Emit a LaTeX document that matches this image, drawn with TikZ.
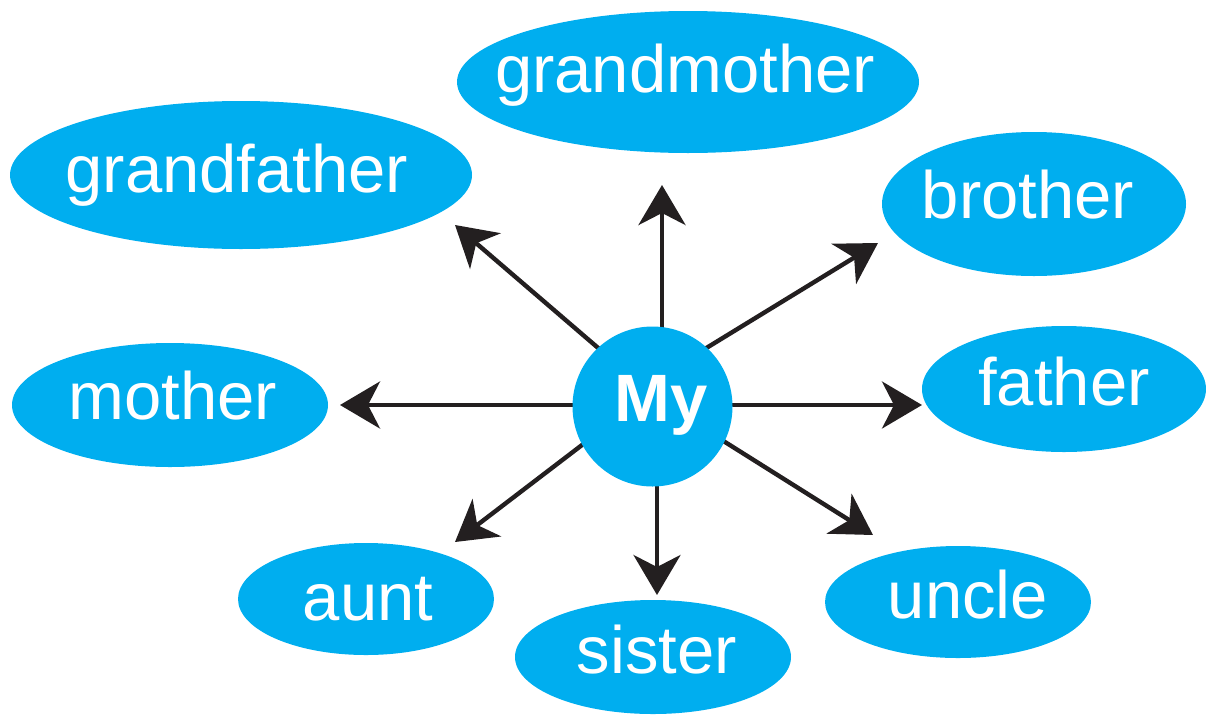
\documentclass[tikz,border=0pt]{standalone}
\usepackage{fontspec}
\setmainfont{Liberation Sans}
\usetikzlibrary{shapes.geometric,arrows.meta,calc}
\definecolor{myblue}{HTML}{00AEEF}
\definecolor{arrowdark}{HTML}{231F20}
\tikzset{
  bubble/.style={ellipse, fill=myblue, draw=none, inner sep=0pt},
  lbl/.style={anchor=base, text=white, inner sep=0pt, font=\fontsize{67}{70}\selectfont},
  arr/.style={draw=arrowdark, line width=4.4pt, -{Stealth[length=40pt,width=47pt,inset=12pt]}},
}
\begin{document}
\begin{tikzpicture}[x=1pt,y=-1pt]
\useasboundingbox (0,0) rectangle (1206,718);
% bubbles
\node[bubble, minimum width=462pt, minimum height=142pt] (gm) at (688,82) {};
\node[bubble, minimum width=462pt, minimum height=148pt] (gf) at (241,175) {};
\node[bubble, minimum width=304pt, minimum height=144pt] (br) at (1034,204) {};
\node[bubble, minimum width=316pt, minimum height=124pt] (mo) at (170,405) {};
\node[bubble, minimum width=284pt, minimum height=126pt] (fa) at (1064,389) {};
\node[bubble, minimum width=256pt, minimum height=112pt] (au) at (366,599) {};
\node[bubble, minimum width=276pt, minimum height=114pt] (si) at (653,657) {};
\node[bubble, minimum width=266pt, minimum height=112pt] (un) at (958,602) {};
% labels
\node[lbl] (tgm) at (685,92) {grandmother};
\node[lbl] (tgf) at (237,192) {grandfather};
\node[lbl] (tbr) at (1028,218) {brother};
\node[lbl] (tmo) at (173,419) {mother};
\node[lbl] (tfa) at (1064,405) {father};
\node[lbl] (tau) at (368,620) {aunt};
\node[lbl] (tsi) at (657,673) {sister};
\node[lbl] (tun) at (968,618) {uncle};
% arrow start/end coordinates
\coordinate (sU) at (662,380);   \coordinate (tU) at (662,185);
\coordinate (sD) at (657,440);   \coordinate (tD) at (657,595);
\coordinate (sL) at (620,405);   \coordinate (tL) at (340,405);
\coordinate (sR) at (690,405);   \coordinate (tR) at (922,405);
\coordinate (sUL) at (597,347);  \coordinate (tUL) at (455,225);
\coordinate (sUR) at (708,347);  \coordinate (tUR) at (878,243);
\coordinate (sDL) at (582,445);  \coordinate (tDL) at (455,542);
\coordinate (sDR) at (725,442);  \coordinate (tDR) at (873,535);
\draw[arr] (sU) -- (tU);
\draw[arr] (sD) -- (tD);
\draw[arr] (sL) -- (tL);
\draw[arr] (sR) -- (tR);
\draw[arr] ($(sUL)!-20pt!(tUL)$) -- (tUL);
\draw[arr] ($(sUR)!-20pt!(tUR)$) -- (tUR);
\draw[arr] ($(sDL)!-20pt!(tDL)$) -- (tDL);
\draw[arr] ($(sDR)!-20pt!(tDR)$) -- (tDR);
% centre
\node[circle, fill=myblue, minimum size=160pt, inner sep=0pt] (my) at (652.5,406.5) {};
\node[lbl, font=\fontsize{67}{70}\selectfont\bfseries] (tmy) at (661,421) {My};
\end{tikzpicture}
\end{document}
